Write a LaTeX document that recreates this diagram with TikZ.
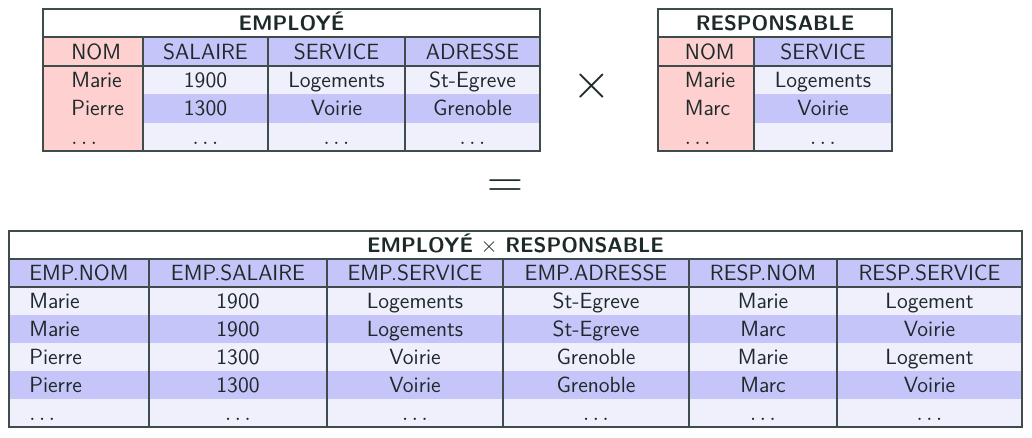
\documentclass[tikz,border=0pt]{standalone}
\definecolor{txtc}{RGB}{30,42,42}
\definecolor{linec}{RGB}{62,76,76}
\definecolor{pinkc}{RGB}{255,208,208}
\definecolor{bluec}{RGB}{197,197,249}
\definecolor{lightc}{RGB}{240,240,253}
\newcommand{\mydots}{$\ldots$}
\tikzset{
  cell/.style={anchor=base, inner sep=0pt, text=txtc, font=\sffamily\fontsize{11}{13}\selectfont},
  ttl/.style={cell, font=\sffamily\bfseries\fontsize{10.5}{13}\selectfont},
  gridline/.style={draw=linec, line width=0.9pt},
  bigop/.style={anchor=base, inner sep=0pt, text=txtc, font=\Huge},
}
\begin{document}
\begin{tikzpicture}[x=0.5pt,y=-0.5pt]
\useasboundingbox (0,0) rectangle (1032,438);

% ---------------- EMPLOYE ----------------
\fill[pinkc] (43,37.4) rectangle (143,151);
\fill[bluec] (143,37.4) rectangle (540,65.8);
\fill[lightc] (143,65.8) rectangle (540,94.2);
\fill[bluec] (143,94.2) rectangle (540,122.6);
\fill[lightc] (143,122.6) rectangle (540,151);
\draw[gridline] (43,37.4) -- (540,37.4) (43,65.8) -- (540,65.8);
\foreach \x in {143,268,405} \draw[gridline] (\x,37.4) -- (\x,151);
\draw[gridline] (43,9) rectangle (540,151);
\node[ttl] (etitle) at (291.5,30.8) {EMPLOYÉ};
\node[cell, anchor=base west] (eh1) at (71,59.2) {NOM};
\node[cell, anchor=base west] (ea1) at (71,87.6) {Marie};
\node[cell, anchor=base west] (eb1) at (71,116) {Pierre};
\node[cell, anchor=base west] (ec1) at (71,144.4) {\mydots};
\foreach \x/\t [count=\i from 2] in {205.5/SALAIRE,336.5/SERVICE,472.5/ADRESSE}
  \node[cell] (eh\i) at (\x,59.2) {\t};
\foreach \x/\a/\b [count=\i from 2] in {205.5/1900/1300,336.5/Logements/Voirie,472.5/St-Egreve/Grenoble}{
  \node[cell] (ea\i) at (\x,87.6) {\a};
  \node[cell] (eb\i) at (\x,116) {\b};
  \node[cell] (ec\i) at (\x,144.4) {\mydots};
}

% ---------------- RESPONSABLE ----------------
\fill[pinkc] (658,37.4) rectangle (754,151);
\fill[bluec] (754,37.4) rectangle (892,65.8);
\fill[lightc] (754,65.8) rectangle (892,94.2);
\fill[bluec] (754,94.2) rectangle (892,122.6);
\fill[lightc] (754,122.6) rectangle (892,151);
\draw[gridline] (658,37.4) -- (892,37.4) (658,65.8) -- (892,65.8);
\draw[gridline] (754,37.4) -- (754,151);
\draw[gridline] (658,9) rectangle (892,151);
\node[ttl] (rtitle) at (775,30.8) {RESPONSABLE};
\node[cell, anchor=base west] (rh1) at (684.5,59.2) {NOM};
\node[cell, anchor=base west] (ra1) at (684.5,87.6) {Marie};
\node[cell, anchor=base west] (rb1) at (684.5,116) {Marc};
\node[cell, anchor=base west] (rc1) at (684.5,144.4) {\mydots};
\node[cell] (rh2) at (823,59.2) {SERVICE};
\node[cell] (ra2) at (823,87.6) {Logements};
\node[cell] (rb2) at (823,116) {Voirie};
\node[cell] (rc2) at (823,144.4) {\mydots};

% ---------------- operators ----------------
\node[bigop] (times) at (592,98.4) {$\times$};
\node[bigop] (equals) at (505,197.4) {$=$};

% ---------------- PRODUCT ----------------
\fill[bluec] (9,259) rectangle (1022,287);
\foreach \y/\c in {287/lightc,315/bluec,343/lightc,371/bluec,399/lightc}
  \fill[\c] (9,\y) rectangle (1022,\y+28);
\draw[gridline] (9,259) -- (1022,259) (9,287) -- (1022,287);
\foreach \x in {149,327,503,689,837} \draw[gridline] (\x,259) -- (\x,427);
\draw[gridline] (9,231) rectangle (1022,427);
\node[ttl] (ptitle) at (515.5,252.6) {EMPLOYÉ $\times$ RESPONSABLE};
\node[cell, anchor=base west] (ph1) at (29,280.6) {EMP.NOM};
\foreach \x/\t [count=\i from 2] in {238/EMP.SALAIRE,415/EMP.SERVICE,596/EMP.ADRESSE,763/RESP.NOM,929.5/RESP.SERVICE}
  \node[cell] (ph\i) at (\x,280.6) {\t};
\foreach \y/\a/\b/\c/\d/\e/\f [count=\j] in {
  308.6/Marie/1900/Logements/St-Egreve/Marie/Logement,
  336.6/Marie/1900/Logements/St-Egreve/Marc/Voirie,
  364.6/Pierre/1300/Voirie/Grenoble/Marie/Logement,
  392.6/Pierre/1300/Voirie/Grenoble/Marc/Voirie,
  420.6/\mydots/\mydots/\mydots/\mydots/\mydots/\mydots}{
  \node[cell, anchor=base west] (p\j-1) at (29,\y) {\a};
  \node[cell] (p\j-2) at (238,\y) {\b};
  \node[cell] (p\j-3) at (415,\y) {\c};
  \node[cell] (p\j-4) at (596,\y) {\d};
  \node[cell] (p\j-5) at (763,\y) {\e};
  \node[cell] (p\j-6) at (929.5,\y) {\f};
}
\end{tikzpicture}
\end{document}
